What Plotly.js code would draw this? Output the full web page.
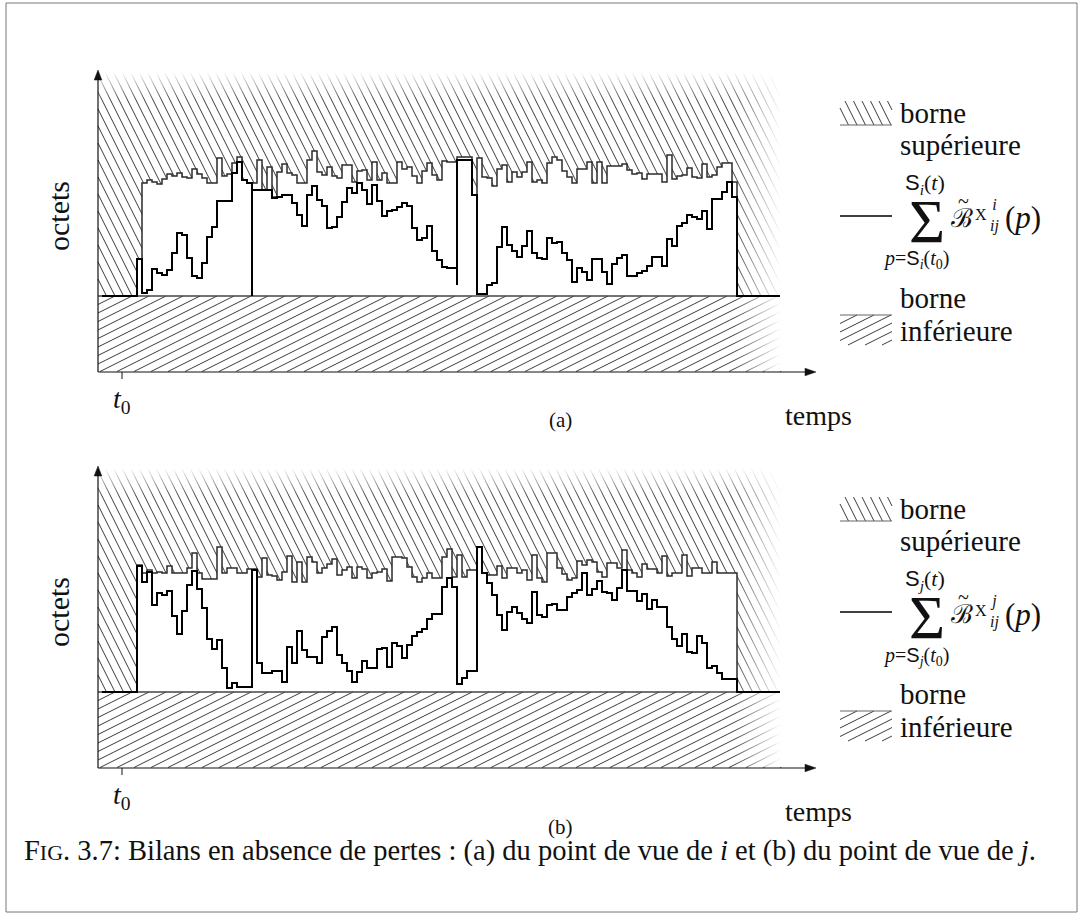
<!DOCTYPE html>
<html>
<head>
<meta charset="utf-8">
<script src="https://cdn.plot.ly/plotly-3.0.1.min.js"></script>
<style>html,body{margin:0;padding:0;background:#fff}</style>
</head>
<body>
<div id="chart" style="width:1083px;height:914px"></div>
<script>
// ---- Data: one value (octets) per time step, both series start at step index stepStart (t0 = 0)
const stepStart = 3;

// (a) point de vue de i
const upperA = [37,113,116,114,112,117,122,120,123,119,
  118,127,122,118,113,113,138,120,122,133,
  139,116,113,113,136,106,129,99,124,132,
  123,121,113,113,136,145,124,121,129,120,
  118,131,131,114,125,126,116,134,116,123,
  113,113,134,127,129,120,113,125,133,121,
  116,135,134,134,139,139,139,101,138,119,
  118,110,127,131,114,124,119,124,134,114,
  116,113,133,139,136,125,119,113,127,127,
  134,113,134,113,130,130,130,132,126,122,
  123,117,122,122,122,114,141,117,120,121,
  128,119,118,132,119,121,129,133,133,114];
const sumA = [37,3,6,27,23,21,26,43,63,61,
  38,20,18,33,59,69,95,95,95,123,
  134,116,113,106,106,106,106,98,99,101,
  101,93,81,70,101,110,96,90,68,69,
  79,94,108,103,113,106,92,111,95,80,
  85,86,89,93,90,68,56,58,70,45,
  36,29,28,28,136,136,136,101,2,2,
  11,13,49,69,51,45,39,50,65,43,
  38,37,58,53,54,43,36,14,28,24,
  16,37,37,24,12,32,38,41,20,20,
  23,25,30,39,39,30,57,50,70,73,
  81,79,77,85,67,97,97,104,114,99];
// brief excursions of the sum just before a step: [step index, value]
const dipsA = [[23, 0], [64, 11]];

// (b) point de vue de j
const upperB = [127,119,122,119,120,119,126,119,119,119,
  124,139,119,113,113,113,145,119,124,124,
  119,119,123,123,115,134,117,116,112,120,
  136,110,130,110,135,130,119,124,128,133,
  117,122,125,114,125,123,114,119,120,123,
  111,135,135,134,125,115,110,114,119,114,
  114,135,143,115,137,115,122,122,145,119,
  117,117,126,114,124,124,119,122,112,137,
  114,110,139,139,124,118,112,114,131,127,
  132,130,120,115,129,129,124,142,122,119,
  115,128,123,123,119,136,116,119,119,137,
  116,124,124,119,119,130,119,119,119,119];
const sumB = [126,110,120,87,99,97,101,76,58,81,
  107,121,103,84,53,43,52,24,4,9,
  5,5,5,122,29,19,19,21,21,10,
  45,29,61,42,35,35,29,55,61,65,
  37,29,21,10,20,31,24,24,43,44,
  25,49,46,34,47,56,60,63,73,78,
  78,105,114,105,8,14,21,21,145,119,
  109,97,77,62,80,85,79,73,69,100,
  77,75,87,88,82,82,95,99,102,119,
  97,103,111,100,99,92,104,122,101,101,
  91,98,83,92,85,85,65,53,46,58,
  40,39,56,49,24,26,19,13,13,13];
const dipsB = [];

const panelLabels = ['(a)', '(b)'];
const viewpoints = ['i', 'j'];
const axisTitleY = 'octets';
const axisTitleX = 'temps';
const tickLabel = '<i>t</i><sub>0</sub>';
const legendUpper = ['borne', 'supérieure'];
const legendLower = ['borne', 'inférieure'];
const caption = 'F<span style="font-size:22px">IG</span>. 3.7: Bilans en absence de pertes : (a) du point de vue de <i>i</i> et (b) du point de vue de <i>j</i>.';

// ---- Layout geometry (pixels)
const FIG_W = 1083, FIG_H = 914;
const T0_PX = 122, STEP_PX = 5;
const PANEL_SHIFT = 396;
const SERIF = '"Liberation Serif", "Times New Roman", serif';
const SANS = 'Liberation Sans';
const HATCH_COLOR = '#262626';

const tOf = px => (px - T0_PX) / STEP_PX;
const px2paperX = px => px / FIG_W;
const px2paperY = py => 1 - py / FIG_H;

function hatchSegments(x0, x1, y0, y1, kind, gap) {
  const segs = [];
  if (kind === 'steep') {           // "\" lines: x = c + y/2
    for (let c = x0 - y1 / 2 - gap; c <= x1 - y0 / 2 + gap; c += gap) {
      const ya = Math.max(y0, 2 * (x0 - c)), yb = Math.min(y1, 2 * (x1 - c));
      if (yb > ya) segs.push([[c + ya / 2, ya], [c + yb / 2, yb]]);
    }
  } else {                          // "/" lines: y = c - x/2
    for (let c = y0 + x0 / 2 - gap; c <= y1 + x1 / 2 + gap; c += gap) {
      const xa = Math.max(x0, 2 * (c - y1)), xb = Math.min(x1, 2 * (c - y0));
      if (xb > xa) segs.push([[xa, c - xa / 2], [xb, c - xb / 2]]);
    }
  }
  return segs;
}

function stepPoints(vals, start, dips, lead, tail) {
  const xs = [], ys = [];
  const dipMap = new Map(dips.map(d => [d[0], d[1]]));
  if (lead !== undefined) { xs.push(lead); ys.push(0); }
  vals.forEach((v, k) => {
    const t = start + k;
    if (dipMap.has(k)) { xs.push(t); ys.push(dipMap.get(k)); }
    xs.push(t); ys.push(v);
  });
  xs.push(start + vals.length); ys.push(0);
  if (tail !== undefined) { xs.push(tail); ys.push(0); }
  return { xs, ys };
}

const traces = [];
const shapes = [];
const annotations = [];

function addAnn(px, py, text, size, extra) {
  annotations.push(Object.assign({
    xref: 'paper', yref: 'paper', x: px2paperX(px), y: px2paperY(py),
    text: text, showarrow: false, xanchor: 'center', yanchor: 'middle',
    font: { family: SERIF, size: size, color: '#111' }
  }, extra || {}));
}
function addLine(x0, y0, x1, y1, color, width) {
  shapes.push({ type: 'line', xref: 'paper', yref: 'paper',
    x0: px2paperX(x0), y0: px2paperY(y0), x1: px2paperX(x1), y1: px2paperY(y1),
    line: { color: color, width: width } });
}
function addTriangle(pts) {
  const d = 'M ' + pts.map(p => px2paperX(p[0]) + ' ' + px2paperY(p[1])).join(' L ') + ' Z';
  shapes.push({ type: 'path', xref: 'paper', yref: 'paper', path: d,
    fillcolor: '#111', line: { color: '#111', width: 0.5 } });
}

const series = [
  { upper: upperA, sum: sumA, dips: dipsA },
  { upper: upperB, sum: sumB, dips: dipsB }
];

series.forEach((s, i) => {
  const off = i * PANEL_SHIFT;
  const base = 296 + off;
  const xa = i === 0 ? 'x' : 'x2', ya = i === 0 ? 'y' : 'y2';
  const vOf = py => base - py;
  const toData = segs => {
    const x = [], y = [];
    segs.forEach(sg => { x.push(tOf(sg[0][0]), tOf(sg[1][0]), null); y.push(vOf(sg[0][1]), vOf(sg[1][1]), null); });
    return { x, y };
  };
  const common = { xaxis: xa, yaxis: ya, hoverinfo: 'skip', showlegend: false };

  const axisX = 98, hatchTop = 72 + off, axisY = 372 + off, hatchRight = 786;

  // upper hatch (above the upper bound)
  const hu = toData(hatchSegments(axisX, hatchRight, hatchTop, base, 'steep', 8.5));
  traces.push(Object.assign({ type: 'scatter', mode: 'lines', x: hu.x, y: hu.y,
    line: { color: HATCH_COLOR, width: 0.9 } }, common));

  // admissible zone under the upper bound
  const up = stepPoints(s.upper, stepStart, []);
  traces.push(Object.assign({ type: 'scatter', mode: 'lines', x: up.xs, y: up.ys,
    line: { shape: 'hv', width: 0 }, fill: 'tozeroy', fillcolor: '#ffffff' }, common));

  // lower hatch (below the lower bound)
  const hl = toData(hatchSegments(axisX, hatchRight, base, axisY - 0.5, 'shallow', 8.5));
  traces.push(Object.assign({ type: 'scatter', mode: 'lines', x: hl.x, y: hl.y,
    line: { color: HATCH_COLOR, width: 0.9 } }, common));

  // fade-outs on the right and at the top of the hatching
  traces.push(Object.assign({ type: 'scatter', mode: 'lines',
    x: [tOf(734), tOf(805), tOf(805), tOf(734), tOf(734)],
    y: [vOf(55 + off), vOf(55 + off), vOf(axisY - 1), vOf(axisY - 1), vOf(55 + off)],
    fill: 'toself', line: { width: 0 },
    fillgradient: { type: 'horizontal', start: tOf(734), stop: tOf(781),
      colorscale: [[0, 'rgba(255,255,255,0)'], [1, 'rgba(255,255,255,1)']] } }, common));
  traces.push(Object.assign({ type: 'scatter', mode: 'lines',
    x: [tOf(90), tOf(805), tOf(805), tOf(90), tOf(90)],
    y: [vOf(55 + off), vOf(55 + off), vOf(100 + off), vOf(100 + off), vOf(55 + off)],
    fill: 'toself', line: { width: 0 },
    fillgradient: { type: 'vertical', start: vOf(100 + off), stop: vOf(72 + off),
      colorscale: [[0, 'rgba(255,255,255,0)'], [1, 'rgba(255,255,255,1)']] } }, common));

  // lower bound
  traces.push(Object.assign({ type: 'scatter', mode: 'lines',
    x: [tOf(axisX), tOf(780)], y: [0, 0], line: { color: '#444', width: 1.3 } }, common));

  // upper bound outline
  const upl = stepPoints(s.upper, stepStart, [], stepStart);
  traces.push(Object.assign({ type: 'scatter', mode: 'lines', x: upl.xs, y: upl.ys,
    line: { shape: 'hv', color: '#2b2b2b', width: 1.5 } }, common));

  // cumulative sum
  const sm = stepPoints(s.sum, stepStart, s.dips, tOf(102), tOf(780));
  traces.push(Object.assign({ type: 'scatter', mode: 'lines', x: sm.xs, y: sm.ys,
    line: { shape: 'hv', color: '#000', width: 2 } }, common));

  // legend swatches
  const su = toData(hatchSegments(840, 892, 101 + off, 125 + off, 'steep', 8.5));
  traces.push(Object.assign({ type: 'scatter', mode: 'lines', x: su.x, y: su.y,
    line: { color: HATCH_COLOR, width: 0.9 } }, common));
  const sl = toData(hatchSegments(840, 892, 315 + off, 345 + off, 'shallow', 8.5));
  traces.push(Object.assign({ type: 'scatter', mode: 'lines', x: sl.x, y: sl.y,
    line: { color: HATCH_COLOR, width: 0.9 } }, common));
  addLine(840, 125 + off, 892, 125 + off, '#666', 1.2);
  addLine(840, 315 + off, 892, 315 + off, '#666', 1.2);
  addLine(840, 216 + off, 892, 216 + off, '#000', 1.5);

  // axes with arrowheads, t0 tick
  addLine(axisX, axisY, axisX, 78 + off, '#111', 1.2);
  addTriangle([[axisX, 70 + off], [axisX - 3.8, 80 + off], [axisX + 3.8, 80 + off]]);
  addLine(axisX, axisY, 806, axisY, '#111', 1.2);
  addTriangle([[816, axisY], [805, axisY - 3.8], [805, axisY + 3.8]]);
  addLine(T0_PX, axisY, T0_PX, axisY + 7, '#111', 1);

  // texts
  const v = viewpoints[i];
  addAnn(58, 216 + off, axisTitleY, 30, { textangle: -90 });
  addAnn(818, 415 + off, axisTitleX, 28);
  addAnn(T0_PX, 400 + off, tickLabel, 28);
  addAnn(560, i === 0 ? 420 : 827, panelLabels[i], 21);
  addAnn(898, 113 + off, legendUpper[0], 29, { xanchor: 'left' });
  addAnn(898, 145 + off, legendUpper[1], 29, { xanchor: 'left' });
  addAnn(898, 298 + off, legendLower[0], 29, { xanchor: 'left' });
  addAnn(898, 331 + off, legendLower[1], 29, { xanchor: 'left' });

  // sum formula of the legend
  const S = '<span style="font-family:' + SANS + '">S</span>';
  addAnn(925, 184 + off, S + '<sub><i>' + v + '</i></sub>(<i>t</i>)', 22);
  addAnn(927, 221 + off, 'Σ', 62, { height: 46, valign: 'middle' });
  addAnn(916, 260 + off, '<i>p</i>=' + S + '<sub><i>' + v + '</i></sub>(<i>t</i><sub>0</sub>)', 20);
  addAnn(962, 218 + off, 'ℬ', 26, { font: { family: 'DejaVu Serif', size: 26, color: '#111' } });
  addAnn(963, 201 + off, '~', 20);
  addAnn(981, 214 + off, 'X', 16);
  addAnn(994, 215 + off, '<i>' + v + '</i><br><i>ij</i>', 16);
  addAnn(1023, 218 + off, '(<i>p</i>)', 31);
});

// caption and frame
addAnn(22, 851, caption, 28.5, { xanchor: 'left' });
shapes.push({ type: 'rect', xref: 'paper', yref: 'paper',
  x0: px2paperX(6), y0: px2paperY(3), x1: px2paperX(1077), y1: px2paperY(912),
  line: { color: '#777', width: 1 } });

const hidden = { visible: false, fixedrange: true, domain: [0, 1] };
const layout = {
  width: FIG_W, height: FIG_H, margin: { l: 0, r: 0, t: 0, b: 0 },
  paper_bgcolor: '#fff', plot_bgcolor: 'rgba(0,0,0,0)', showlegend: false,
  font: { family: SERIF },
  xaxis: Object.assign({ range: [tOf(0), tOf(FIG_W)], anchor: 'y' }, hidden),
  yaxis: Object.assign({ range: [296 - FIG_H, 296], anchor: 'x' }, hidden),
  xaxis2: Object.assign({ range: [tOf(0), tOf(FIG_W)], anchor: 'y2' }, hidden),
  yaxis2: Object.assign({ range: [296 + PANEL_SHIFT - FIG_H, 296 + PANEL_SHIFT], anchor: 'x2' }, hidden),
  shapes: shapes, annotations: annotations
};
Plotly.newPlot('chart', traces, layout, { staticPlot: true, displayModeBar: false });
</script>
</body>
</html>
